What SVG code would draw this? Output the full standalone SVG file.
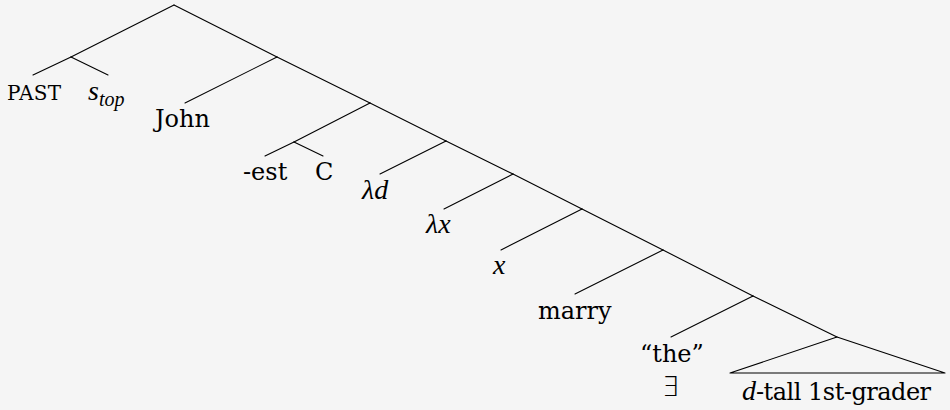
<svg xmlns="http://www.w3.org/2000/svg" width="950" height="410" viewBox="0 0 950 410">
<style>
  .t { font-family: "DejaVu Serif", "Liberation Serif", serif; font-size: 24px; fill: #000; }
  .i { font-family: "Liberation Serif", "DejaVu Serif", serif; font-style: italic; font-size: 28px; }
  .sc { font-size: 20px; letter-spacing: 0.3px; }
  .sub { font-family: "Liberation Serif", "DejaVu Serif", serif; font-size: 20px; font-style: italic; }
  .sym { font-family: "DejaVu Sans", sans-serif; font-size: 27px; font-weight: 200; }
  .tight { letter-spacing: -0.5px; }
  .e { stroke: #000; stroke-width: 1.1; fill: none; stroke-linecap: round; }
</style>
<rect x="0" y="0" width="950" height="410" fill="#f5f5f5"/>
<g id="connectors">
  <line class="e" x1="174" y1="5" x2="71" y2="57"/>
  <line class="e" x1="71" y1="57" x2="33" y2="75"/>
  <line class="e" x1="71" y1="57" x2="108" y2="75"/>
  <line class="e" x1="174" y1="5" x2="277" y2="57"/>
  <line class="e" x1="277" y1="57" x2="185" y2="103"/>
  <line class="e" x1="277" y1="57" x2="370" y2="103"/>
  <line class="e" x1="370" y1="103" x2="294" y2="142"/>
  <line class="e" x1="294" y1="142" x2="265" y2="156"/>
  <line class="e" x1="294" y1="142" x2="323" y2="156"/>
  <line class="e" x1="370" y1="103" x2="446" y2="141"/>
  <line class="e" x1="446" y1="141" x2="380" y2="174"/>
  <line class="e" x1="446" y1="141" x2="513" y2="174"/>
  <line class="e" x1="513" y1="174" x2="444" y2="209"/>
  <line class="e" x1="513" y1="174" x2="582" y2="209"/>
  <line class="e" x1="582" y1="209" x2="501" y2="250"/>
  <line class="e" x1="582" y1="209" x2="663" y2="250"/>
  <line class="e" x1="663" y1="250" x2="575" y2="294"/>
  <line class="e" x1="663" y1="250" x2="753" y2="296"/>
  <line class="e" x1="753" y1="296" x2="671" y2="337"/>
  <line class="e" x1="753" y1="296" x2="837" y2="337"/>
  <polygon class="e" points="837,337 730,373 945,373" stroke-linejoin="round"/>
</g>
<g id="n-past"><text class="t sc" x="7" y="100">PAST</text></g>
<g id="n-stop"><text class="t" x="88" y="100"><tspan class="i">s</tspan><tspan class="sub" dy="6">top</tspan></text></g>
<g id="n-john"><text class="t" x="155" y="127">John</text></g>
<g id="n-est"><text class="t" x="243" y="180">-est</text></g>
<g id="n-c"><text class="t" x="315" y="180">C</text></g>
<g id="n-ld"><text class="t i" x="362" y="199">λd</text></g>
<g id="n-lx"><text class="t i" x="426" y="233">λx</text></g>
<g id="n-x"><text class="t i" x="493" y="274">x</text></g>
<g id="n-marry"><text class="t" x="538" y="319">marry</text></g>
<g id="n-the"><text class="t" x="640" y="362">“the”</text></g>
<g id="n-exists"><text class="t sym" x="662" y="396">∃</text></g>
<g id="n-np"><text class="t" x="742" y="400"><tspan class="i">d</tspan><tspan class="tight">-tall 1st-grader</tspan></text></g>
</svg>
